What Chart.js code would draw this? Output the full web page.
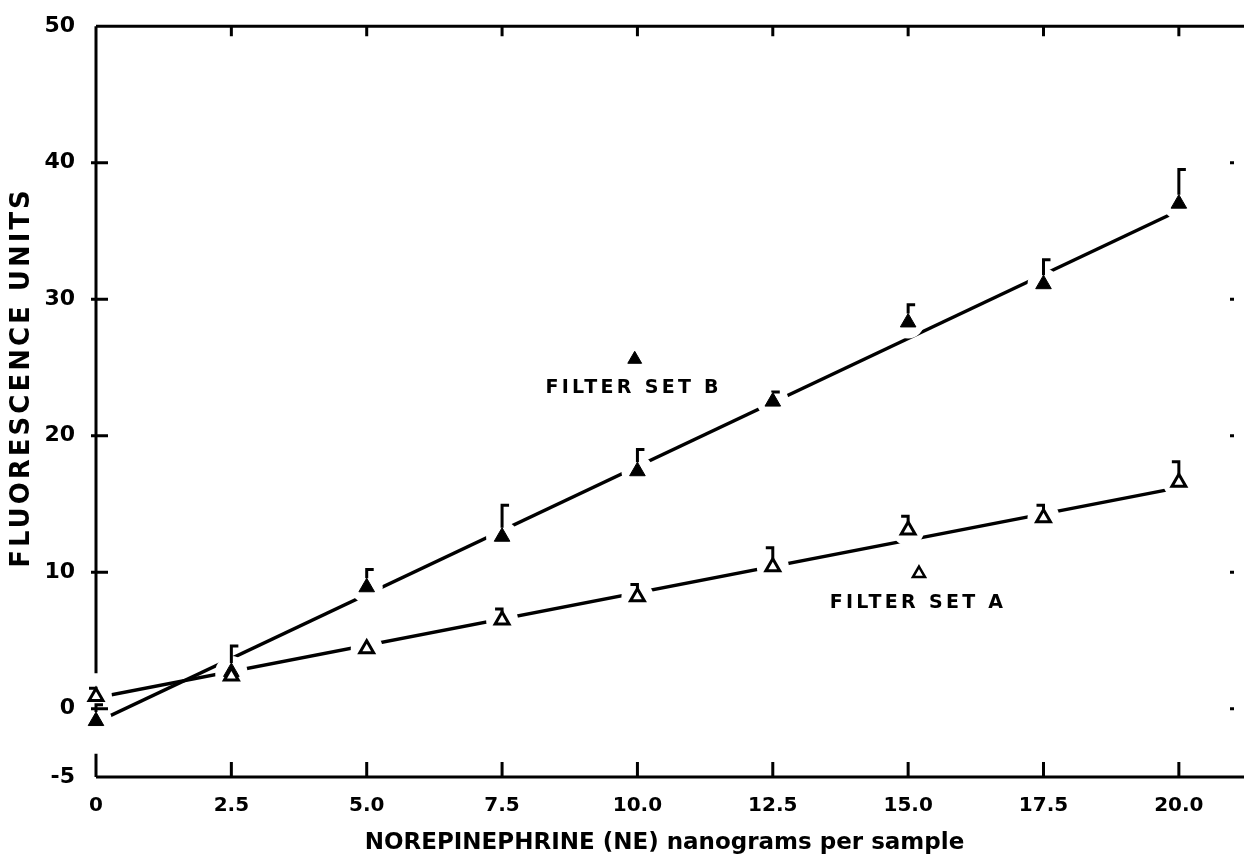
<!DOCTYPE html>
<html>
<head>
<meta charset="utf-8">
<script src="https://cdn.jsdelivr.net/npm/chart.js@4.4.1/dist/chart.umd.min.js"></script>
<style>
  body { margin: 0; background: #fff; }
  canvas { display: block; }
</style>
</head>
<body>
<canvas id="myChart" width="1244" height="858"></canvas>
<script>
// sample amounts of NE (ng)
const xValues = [0, 2.5, 5, 7.5, 10, 12.5, 15, 17.5, 20];

// filter set B (filled triangles) - means and top of error bar
const setB = [-0.9, 2.7, 8.9, 12.6, 17.4, 22.5, 28.3, 31.1, 37.0];
const setBTop = [0.3, 4.6, 10.2, 14.9, 19.0, 23.2, 29.6, 32.9, 39.5];

// filter set A (open triangles)
const setA = [0.9, 2.4, 4.4, 6.5, 8.2, 10.4, 13.1, 14.0, 16.6];
const setATop = [1.5, 2.8, 4.9, 7.3, 9.1, 11.8, 14.1, 14.9, 18.1];

// fitted lines, end points
const fitX = [0, 20];
const fitB = [-1.0, 36.5];
const fitA = [0.8, 16.2];

// tick labels
const xTicks = [0, 2.5, 5, 7.5, 10, 12.5, 15, 17.5, 20];
const xTickLabels = ["0", "2.5", "5.0", "7.5", "10.0", "12.5", "15.0", "17.5", "20.0"];
const yTicks = [-5, 0, 10, 20, 30, 40, 50];

const font = "'DejaVu Sans', sans-serif";

function pts(xs, ys) {
	return xs.map((x, i) => ({x: x, y: ys[i]}));
}

// white gaps in the fitted lines round each point,
// painted just before the first marker set is drawn
const gapPlugin = {
	id: 'gaps',
	beforeDatasetDraw(chart, args) {
		const label = chart.data.datasets[args.index].label;
		if (label !== 'Filter set B') return;
		const ctx = chart.ctx;
		const xs = chart.scales.x;
		const ys = chart.scales.y;
		ctx.save();
		ctx.fillStyle = '#fff';
		[setB, setA].forEach(vals => {
			vals.forEach((v, i) => {
				ctx.beginPath();
				ctx.arc(xs.getPixelForValue(xValues[i]), ys.getPixelForValue(v), 16, 0, Math.PI * 2);
				ctx.fill();
			});
		});
		ctx.restore();
	}
};

// draws the axes frame, the error bars and the two labels
const framePlugin = {
	id: 'frame',
	afterDatasetsDraw(chart) {
		const ctx = chart.ctx;
		const xs = chart.scales.x;
		const ys = chart.scales.y;
		const area = chart.chartArea;
		const W = chart.width;
		ctx.save();
		ctx.strokeStyle = '#000';
		ctx.fillStyle = '#000';
		ctx.lineWidth = 3;
		ctx.lineCap = 'butt';

		// error bars
		function bars(vals, tops, side, r) {
			vals.forEach((v, i) => {
				const px = xs.getPixelForValue(xValues[i]);
				const apex = ys.getPixelForValue(v) - r;
				const top = ys.getPixelForValue(tops[i]);
				if (top >= apex) return;
				ctx.beginPath();
				ctx.moveTo(px, apex);
				ctx.lineTo(px, top);
				ctx.lineTo(px + side * 7, top);
				ctx.stroke();
			});
		}
		bars(setB, setBTop, 1, 9);
		bars(setA, setATop, -1, 8);

		// left axis (with a break near the bottom)
		const left = area.left;
		ctx.beginPath();
		ctx.moveTo(left, area.top);
		ctx.lineTo(left, ys.getPixelForValue(2.6));
		ctx.moveTo(left, ys.getPixelForValue(-3.3));
		ctx.lineTo(left, area.bottom);
		ctx.stroke();
		// bottom and top lines
		ctx.beginPath();
		ctx.moveTo(left, area.bottom);
		ctx.lineTo(W, area.bottom);
		ctx.moveTo(left, area.top);
		ctx.lineTo(W, area.top);
		ctx.stroke();
		// x ticks (inside)
		ctx.beginPath();
		xTicks.forEach(v => {
			if (v === 0) return;
			const px = xs.getPixelForValue(v);
			ctx.moveTo(px, area.bottom);
			ctx.lineTo(px, area.bottom - 15);
			ctx.moveTo(px, area.top);
			ctx.lineTo(px, area.top + 10);
		});
		// y ticks (inside), and little marks on the right
		yTicks.forEach(v => {
			if (v === -5 || v === 50) return;
			const py = ys.getPixelForValue(v);
			ctx.moveTo(left - 5, py);
			ctx.lineTo(left + 12, py);
			ctx.moveTo(area.right - 3, py);
			ctx.lineTo(area.right + 1, py);
		});
		ctx.stroke();

		// y axis title, spaced out like the original lettering
		ctx.font = "bold 26px " + font;
		ctx.letterSpacing = '3px';
		ctx.textAlign = 'center';
		ctx.textBaseline = 'middle';
		ctx.translate(22, (ys.getPixelForValue(10) + ys.getPixelForValue(40)) / 2 + 10);
		ctx.rotate(-Math.PI / 2);
		ctx.fillText('FLUORESCENCE UNITS', 0, 0);
		ctx.restore();

		// curve labels
		ctx.save();
		ctx.fillStyle = '#000';
		ctx.font = "bold 19px " + font;
		ctx.letterSpacing = '3.3px';
		ctx.textAlign = 'left';
		ctx.textBaseline = 'alphabetic';
		ctx.fillText('FILTER SET B', xs.getPixelForValue(8.3), ys.getPixelForValue(23.1));
		ctx.fillText('FILTER SET A', xs.getPixelForValue(13.55), ys.getPixelForValue(7.4));
		ctx.restore();
	}
};

const myChart = document.getElementById("myChart");

// marker sets first (drawn on top), fitted lines last (drawn underneath)
new Chart(myChart, {
	type: 'scatter',
	data: {
		datasets: [
			{
				label: 'keyB',
				data: [{x: 9.95, y: 25.6}],
				pointStyle: 'triangle',
				pointRadius: 8,
				backgroundColor: '#000',
				borderColor: '#000',
				borderWidth: 1
			},
			{
				label: 'keyA',
				data: [{x: 15.2, y: 9.9}],
				pointStyle: 'triangle',
				pointRadius: 7,
				backgroundColor: '#fff',
				borderColor: '#000',
				borderWidth: 2.5
			},
			{
				label: 'Filter set A',
				data: pts(xValues, setA),
				pointStyle: 'triangle',
				pointRadius: 8,
				backgroundColor: '#fff',
				borderColor: '#000',
				borderWidth: 3,
				clip: false
			},
			{
				label: 'Filter set B',
				data: pts(xValues, setB),
				pointStyle: 'triangle',
				pointRadius: 9,
				backgroundColor: '#000',
				borderColor: '#000',
				borderWidth: 1,
				clip: false
			},
			{
				label: 'fit B',
				data: pts(fitX, fitB),
				showLine: true,
				pointRadius: 0,
				borderColor: '#000',
				borderWidth: 3.5
			},
			{
				label: 'fit A',
				data: pts(fitX, fitA),
				showLine: true,
				pointRadius: 0,
				borderColor: '#000',
				borderWidth: 3.5
			}
		]
	},
	plugins: [gapPlugin, framePlugin],
	options: {
		responsive: false,
		animation: false,
		devicePixelRatio: 1,
		layout: {padding: {top: 19, right: 4, left: 0, bottom: 0}},
		plugins: {legend: {display: false}, tooltip: {enabled: false}},
		elements: {point: {hoverRadius: 0}},
		scales: {
			x: {
				type: 'linear',
				min: 0,
				max: 21,
				afterBuildTicks: s => { s.ticks = xTicks.map(v => ({value: v})); },
				afterFit: s => { s.height = 81; },
				grid: {display: false},
				border: {display: false},
				ticks: {
					padding: 9,
					maxRotation: 0,
					color: '#000',
					font: {family: font, size: 20, weight: 'bold'},
					callback: (v) => xTickLabels[xTicks.indexOf(v)]
				},
				title: {
					display: true,
					text: 'NOREPINEPHRINE (NE) nanograms per sample',
					color: '#000',
					font: {family: font, size: 23, weight: 'bold'},
					padding: {top: 0, bottom: 1}
				}
			},
			y: {
				type: 'linear',
				min: -5,
				max: 50,
				afterBuildTicks: s => { s.ticks = yTicks.map(v => ({value: v})); },
				afterFit: s => { s.width = 96; },
				grid: {display: false},
				border: {display: false},
				ticks: {
					padding: 13,
					color: '#000',
					font: {family: font, size: 22, weight: 'bold'}
				}
			}
		}
	}
});
</script>
</body>
</html>
